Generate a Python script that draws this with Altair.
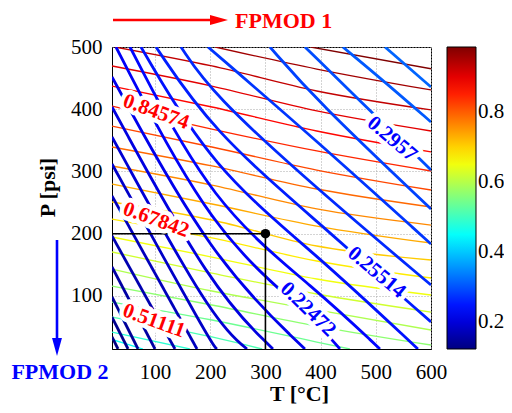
import altair as alt
import pandas as pd

# axis ranges
T_MIN, T_MAX = 22, 600
P_MIN, P_MAX = 14.7, 500
X_TICKS = [100, 200, 300, 400, 500, 600]
Y_TICKS = [100, 200, 300, 400, 500]
CBAR_TICKS = [0.2, 0.4, 0.6, 0.8]

# FPMOD 1 contours (thin, jet coloured)
FP1_LEVELS = [0.98517, 0.95728, 0.92940, 0.90151, 0.87363, 0.84574, 0.81785,
              0.78997, 0.76208, 0.73420, 0.70631, 0.67842, 0.65054, 0.62265,
              0.59477, 0.56688, 0.53900, 0.51111, 0.48322, 0.45534]
FP1_T = [
    [382, 600],
    [209, 393, 600],
    [27, 203, 393, 600],
    [22, 203, 393, 600],
    [22, 203, 393, 600],
    [22, 203, 393, 600],
    [22, 203, 393, 600],
    [22, 203, 393, 600],
    [22, 203, 393, 600],
    [22, 203, 393, 600],
    [22, 203, 393, 600],
    [22, 203, 393, 600],
    [22, 203, 393, 600],
    [22, 203, 393, 600],
    [22, 203, 393, 600],
    [22, 203, 393, 600],
    [22, 203, 393, 453],
    [22, 203, 294],
    [22, 163],
    [22, 78],
]
FP1_P = [
    [500, 465.0],
    [500, 464.6, 430.9],
    [500, 469.5, 429.3, 398.8],
    [469.5, 437.3, 397.2, 365.0],
    [437.3, 403.6, 365.0, 331.3],
    [405.2, 368.2, 332.9, 300.7],
    [373.0, 339.3, 302.3, 270.2],
    [339.3, 308.8, 271.8, 242.9],
    [308.8, 278.2, 239.7, 213.9],
    [279.8, 247.7, 212.3, 185.0],
    [250.9, 222.0, 180.2, 157.7],
    [223.6, 193.1, 156.1, 128.8],
    [194.7, 162.5, 127.2, 101.5],
    [170.6, 136.8, 103.1, 74.1],
    [143.2, 107.9, 77.4, 45.2],
    [115.9, 85.4, 51.6, 21.1],
    [90.2, 61.3, 25.9, 14.7],
    [66.1, 34.0, 14.7],
    [42.0, 14.7],
    [30.0, 14.7],
]

# FPMOD 2 contours (thick, blue part of jet)
FP2_LEVELS = [0.31598, 0.30584, 0.29570, 0.28556, 0.27542, 0.26528, 0.25514,
              0.24500, 0.23486, 0.22472, 0.21458, 0.20444, 0.19430, 0.18416,
              0.17402, 0.16388, 0.15374, 0.14360, 0.13346, 0.12332]
FP2_T = [
    [516.6, 600],
    [440.3, 516.6, 600],
    [371.6, 525.6, 600],
    [308.2, 393.4, 600],
    [195.9, 393.4, 600],
    [147.0, 203.2, 393.4, 600],
    [101.7, 203.2, 393.4, 600],
    [74.5, 203.2, 393.4, 576.3],
    [54.6, 203.2, 393.4, 507.5],
    [29.2, 203.2, 377.0, 435.0],
    [22, 203.2, 371.6],
    [22, 203.2, 313.7],
    [22, 203.2, 266.6],
    [22, 203.2, 212.2],
    [22, 176.0],
    [22, 136.1],
    [22, 99.9],
    [22, 69.1],
    [22, 51.0],
    [22, 32.9],
]
FP2_P = [
    [500, 435.7],
    [500, 443.8, 379.5],
    [500, 366.6, 302.3],
    [500, 413.2, 239.7],
    [500, 348.9, 183.4],
    [500, 425.0, 272.0, 117.5],
    [500, 366.0, 220.0, 58.1],
    [500, 305.0, 166.0, 14.7],
    [500, 245.0, 110.0, 14.7],
    [500, 200.0, 74.0, 14.7],
    [451.8, 158.0, 14.7],
    [403.6, 110.0, 14.7],
    [355.4, 62.0, 14.7],
    [312.0, 21.1, 14.7],
    [260.6, 14.7],
    [196.3, 14.7],
    [146.5, 14.7],
    [98.3, 14.7],
    [66.1, 14.7],
    [34.0, 14.7],
]

# operating point
POINT_T, POINT_P = 300, 200

# contour labels
LABEL_TEXT = ["0.84574", "0.67842", "0.51111", "0.2957", "0.25514", "0.22472"]
LABEL_T = [101.7, 101.7, 98.0, 529.3, 501.2, 377.0]
LABEL_P = [395.5, 222.0, 59.7, 352.2, 137.6, 78.2]
LABEL_ANGLE = [20, 20, 20, 40, 40, 44]
LABEL_COLOR = ["#ff0000", "#ff0000", "#ff0000", "#0000ff", "#0000ff", "#0000ff"]

# jet colormap stops
JET_DOMAIN = [0.12332, 0.23105, 0.44652, 0.66198, 0.87744, 0.98517]
JET_RANGE = ["#000080", "#0000ff", "#00ffff", "#ffff00", "#ff0000", "#800000"]

FONT = "Liberation Serif"

rows1, rows2 = [], []
for i, (lev, ts, ps) in enumerate(zip(FP1_LEVELS, FP1_T, FP1_P)):
    for k, (t, p) in enumerate(zip(ts, ps)):
        rows1.append({"id": f"a{i:02d}", "k": k, "T": t, "P": p, "level": lev})
for i, (lev, ts, ps) in enumerate(zip(FP2_LEVELS, FP2_T, FP2_P)):
    for k, (t, p) in enumerate(zip(ts, ps)):
        rows2.append({"id": f"b{i:02d}", "k": k, "T": t, "P": p, "level": lev})
df1 = pd.DataFrame(rows1)
df2 = pd.DataFrame(rows2)

xscale = alt.Scale(domain=[T_MIN, T_MAX], nice=False, zero=False)
yscale = alt.Scale(domain=[P_MIN, P_MAX], nice=False, zero=False)
cscale = alt.Scale(domain=JET_DOMAIN, range=JET_RANGE, interpolate="rgb")
clegend = alt.Legend(orient="none", legendX=335, legendY=0,
                     direction="vertical", gradientLength=302,
                     gradientThickness=29, title=None, values=CBAR_TICKS,
                     labelFont=FONT, labelFontSize=21, labelColor="black",
                     labelOffset=2, gradientStrokeColor="black",
                     gradientStrokeWidth=1, padding=0)

xaxis = alt.Axis(values=X_TICKS, title="T [°C]", titleX=187, titleY=51,
                 titleAlign="center", titleBaseline="alphabetic", labelFlush=False,
                 ticks=False, tickSize=0, labelPadding=12, grid=True)
yaxis = alt.Axis(values=Y_TICKS, title="P [psi]", titleX=-65, titleY=140,
                 titleAngle=-90, titleAlign="center", titleBaseline="middle",
                 labelFlush=False, ticks=False, tickSize=0, labelPadding=10, grid=True)

lines1 = alt.Chart(df1).mark_line(clip=True, interpolate="monotone", strokeWidth=1.3).encode(
    x=alt.X("T:Q", scale=xscale, axis=xaxis),
    y=alt.Y("P:Q", scale=yscale, axis=yaxis),
    color=alt.Color("level:Q", scale=cscale, legend=clegend),
    detail="id:N",
    order="k:O",
)
lines2 = alt.Chart(df2).mark_line(clip=True, interpolate="basis", strokeWidth=2.8).encode(
    x=alt.X("T:Q", scale=xscale, axis=xaxis),
    y=alt.Y("P:Q", scale=yscale, axis=yaxis),
    color=alt.Color("level:Q", scale=cscale, legend=clegend),
    detail="id:N",
    order="k:O",
)

hline = alt.Chart(pd.DataFrame({"T": [T_MIN], "T2": [POINT_T], "P": [POINT_P]})).mark_rule(
    color="black", strokeWidth=1.6).encode(x="T:Q", x2="T2:Q", y="P:Q")
vline = alt.Chart(pd.DataFrame({"T": [POINT_T], "P": [P_MIN], "P2": [POINT_P]})).mark_rule(
    color="black", strokeWidth=1.6).encode(x="T:Q", y="P:Q", y2="P2:Q")
dot = alt.Chart(pd.DataFrame({"T": [POINT_T], "P": [POINT_P]})).mark_point(
    filled=True, color="black", size=90, opacity=1).encode(x="T:Q", y="P:Q")

ldf = pd.DataFrame({"text": LABEL_TEXT, "T": LABEL_T, "P": LABEL_P,
                    "angle": LABEL_ANGLE, "color": LABEL_COLOR})
halo = alt.Chart(ldf).mark_text(font=FONT, fontSize=21, fontWeight="bold",
                                 stroke="white", strokeWidth=9, fill="white",
                                 strokeJoin="round", baseline="middle", align="center").encode(
    x="T:Q", y="P:Q", text="text:N", angle=alt.Angle("angle:Q", scale=None))
labels = alt.Chart(ldf).mark_text(font=FONT, fontSize=21, fontWeight="bold",
                                   baseline="middle", align="center").encode(
    x="T:Q", y="P:Q", text="text:N", angle=alt.Angle("angle:Q", scale=None),
    color=alt.Color("color:N", scale=None))

one = pd.DataFrame({"a": [0]})
arrow1 = alt.Chart(one).mark_rule(color="#ff0000", strokeWidth=2.6).encode(
    x=alt.value(1), x2=alt.value(100), y=alt.value(-27))
head1 = alt.Chart(one).mark_point(shape="M-1,-0.55L1,0L-1,0.55Z", size=324, filled=True,
                                  color="#ff0000", opacity=1).encode(
    x=alt.value(107), y=alt.value(-27))
text1 = alt.Chart(one).mark_text(text="FPMOD 1", font=FONT, fontSize=22, fontWeight="bold",
                                 color="#ff0000", align="left", baseline="middle").encode(
    x=alt.value(123), y=alt.value(-26))
arrow2 = alt.Chart(one).mark_rule(color="#0000ff", strokeWidth=2.6).encode(
    x=alt.value(-55), y=alt.value(193), y2=alt.value(293))
head2 = alt.Chart(one).mark_point(shape="M-0.55,-1L0,1L0.55,-1Z", size=324, filled=True,
                                  color="#0000ff", opacity=1).encode(
    x=alt.value(-55), y=alt.value(300))
text2 = alt.Chart(one).mark_text(text="FPMOD 2", font=FONT, fontSize=22, fontWeight="bold",
                                 color="#0000ff", align="center", baseline="middle").encode(
    x=alt.value(-52), y=alt.value(325))

chart = alt.layer(lines1, lines2, hline, vline, dot, halo, labels,
                  arrow1, head1, text1, arrow2, head2, text2).properties(
    width=319, height=302,
    autosize=alt.AutoSizeParams(type="none"),
    padding={"left": 104, "top": 39, "right": 73, "bottom": 56},
).configure_view(stroke="black", strokeWidth=1).configure_axis(
    labelFont=FONT, labelFontSize=21, labelColor="black",
    titleFont=FONT, titleFontSize=22, titleFontWeight="bold", titleColor="black",
    domainColor="black", gridColor="#a8a8a8", gridDash=[1, 2], gridWidth=1,
).configure_legend(labelFont=FONT)

chart.save("out.html", embed_options={"renderer": "svg", "actions": False})
